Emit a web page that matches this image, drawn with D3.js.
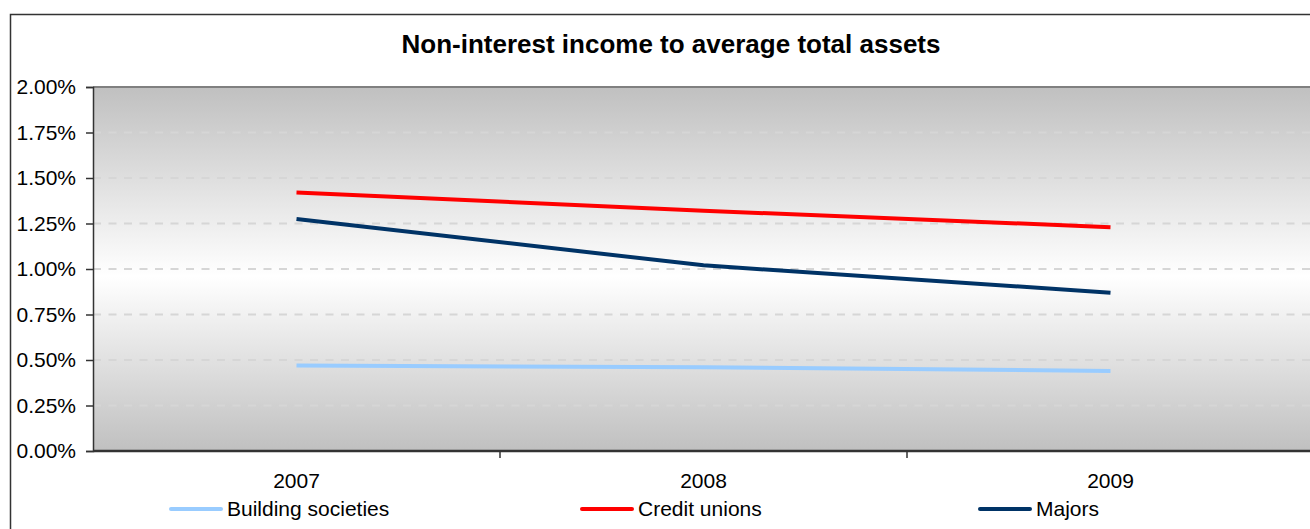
<!DOCTYPE html>
<html>
<head>
<meta charset="utf-8">
<script src="https://cdn.jsdelivr.net/npm/d3@7"></script>
<style>
  html, body { margin: 0; padding: 0; background: #fff; }
  svg { display: block; font-family: "Liberation Sans", Arial, sans-serif; }
</style>
</head>
<body>
<svg id="chart" width="1310" height="529"></svg>
<script>
// Non-interest income as a share of average total assets, by institution type
const years = ["2007", "2008", "2009"];
const buildingSocieties = [0.47, 0.46, 0.44];
const creditUnions = [1.42, 1.32, 1.23];
const majors = [1.275, 1.02, 0.87];
const yTicks = [0, 0.25, 0.5, 0.75, 1.0, 1.25, 1.5, 1.75, 2.0];

const seriesNames = ["Building societies", "Credit unions", "Majors"];
const seriesColors = ["#99ccff", "#ff0000", "#003366"];
const seriesValues = [buildingSocieties, creditUnions, majors];

const svg = d3.select("#chart");
const labelSize = 21;

// Plot frame
const plot = { left: 93, right: 1314, top: 87, bottom: 451 };

const x = d3.scaleBand().domain(years).range([plot.left, plot.right]);
const y = d3.scaleLinear().domain([0, 2]).range([plot.bottom, plot.top]);

// Outer chart border
svg.append("rect")
  .attr("x", 10.5).attr("y", 14.5)
  .attr("width", 1322).attr("height", 540)
  .attr("fill", "#fff").attr("stroke", "#333").attr("stroke-width", 1.5);

// Title
svg.append("text")
  .attr("x", 671).attr("y", 53)
  .attr("text-anchor", "middle")
  .attr("font-size", 26).attr("font-weight", "bold")
  .text("Non-interest income to average total assets");

// Background gradient: grey at top and bottom, white in the middle
const defs = svg.append("defs");
const grad = defs.append("linearGradient")
  .attr("id", "bg").attr("x1", 0).attr("y1", 0).attr("x2", 0).attr("y2", 1);
grad.append("stop").attr("offset", "0%").attr("stop-color", "#c0c0c0");
grad.append("stop").attr("offset", "52%").attr("stop-color", "#ffffff");
grad.append("stop").attr("offset", "100%").attr("stop-color", "#c0c0c0");

svg.append("rect")
  .attr("x", plot.left).attr("y", plot.top)
  .attr("width", plot.right - plot.left).attr("height", plot.bottom - plot.top)
  .attr("fill", "url(#bg)");

// Dashed gridlines
svg.append("g")
  .selectAll("line")
  .data(yTicks.filter(t => t > 0 && t < 2))
  .join("line")
  .attr("x1", plot.left).attr("x2", plot.right)
  .attr("y1", d => y(d)).attr("y2", d => y(d))
  .attr("stroke", "#d6d6d6").attr("stroke-width", 2)
  .attr("stroke-dasharray", "8,7.5");

// Top plot border
svg.append("line")
  .attr("x1", plot.left).attr("x2", plot.right)
  .attr("y1", plot.top).attr("y2", plot.top)
  .attr("stroke", "#808080").attr("stroke-width", 2);

// Y axis
const yAxis = d3.axisLeft(y)
  .tickValues(yTicks)
  .tickSize(7)
  .tickPadding(10)
  .tickFormat(d => d3.format(".2f")(d) + "%");

const gy = svg.append("g")
  .attr("transform", `translate(${plot.left},0)`)
  .call(yAxis);
gy.select(".domain").attr("stroke", "#333").attr("stroke-width", 1.5);
gy.selectAll(".tick line").attr("stroke", "#333").attr("stroke-width", 1.5);
gy.selectAll(".tick text")
  .attr("font-size", labelSize).attr("fill", "#000")
  .attr("font-family", "'Liberation Sans', Arial, sans-serif");

// X axis: category labels, with boundary ticks between categories
const xAxis = d3.axisBottom(x).tickSize(0).tickPadding(22);
const gx = svg.append("g")
  .attr("transform", `translate(0,${plot.bottom})`)
  .call(xAxis);
gx.select(".domain").remove();
gx.selectAll(".tick text")
  .attr("font-size", labelSize).attr("fill", "#000")
  .attr("font-family", "'Liberation Sans', Arial, sans-serif");

svg.append("line")
  .attr("x1", plot.left).attr("x2", plot.right)
  .attr("y1", plot.bottom).attr("y2", plot.bottom)
  .attr("stroke", "#333").attr("stroke-width", 2.5);

svg.append("g")
  .selectAll("line")
  .data(years.slice(1))
  .join("line")
  .attr("x1", d => x(d)).attr("x2", d => x(d))
  .attr("y1", plot.bottom).attr("y2", plot.bottom + 7)
  .attr("stroke", "#333").attr("stroke-width", 1.5);

// Series lines
const line = d3.line()
  .x((d, i) => x(years[i]) + x.bandwidth() / 2)
  .y(d => y(d));

svg.append("g")
  .selectAll("path")
  .data(seriesValues)
  .join("path")
  .attr("d", d => line(d))
  .attr("fill", "none")
  .attr("stroke", (d, i) => seriesColors[i])
  .attr("stroke-width", 4)
  .attr("stroke-linejoin", "round");

// Legend
const legendX = [171, 582, 980];
const legend = svg.append("g")
  .selectAll("g")
  .data(seriesNames)
  .join("g")
  .attr("transform", (d, i) => `translate(${legendX[i]},509)`);

legend.append("line")
  .attr("x1", 0).attr("x2", 50).attr("y1", 0).attr("y2", 0)
  .attr("stroke", (d, i) => seriesColors[i])
  .attr("stroke-width", 4)
  .attr("stroke-linecap", "round");

legend.append("text")
  .attr("x", 56).attr("y", 0).attr("dy", "0.35em")
  .attr("font-size", labelSize).attr("fill", "#000")
  .text(d => d);
</script>
</body>
</html>
